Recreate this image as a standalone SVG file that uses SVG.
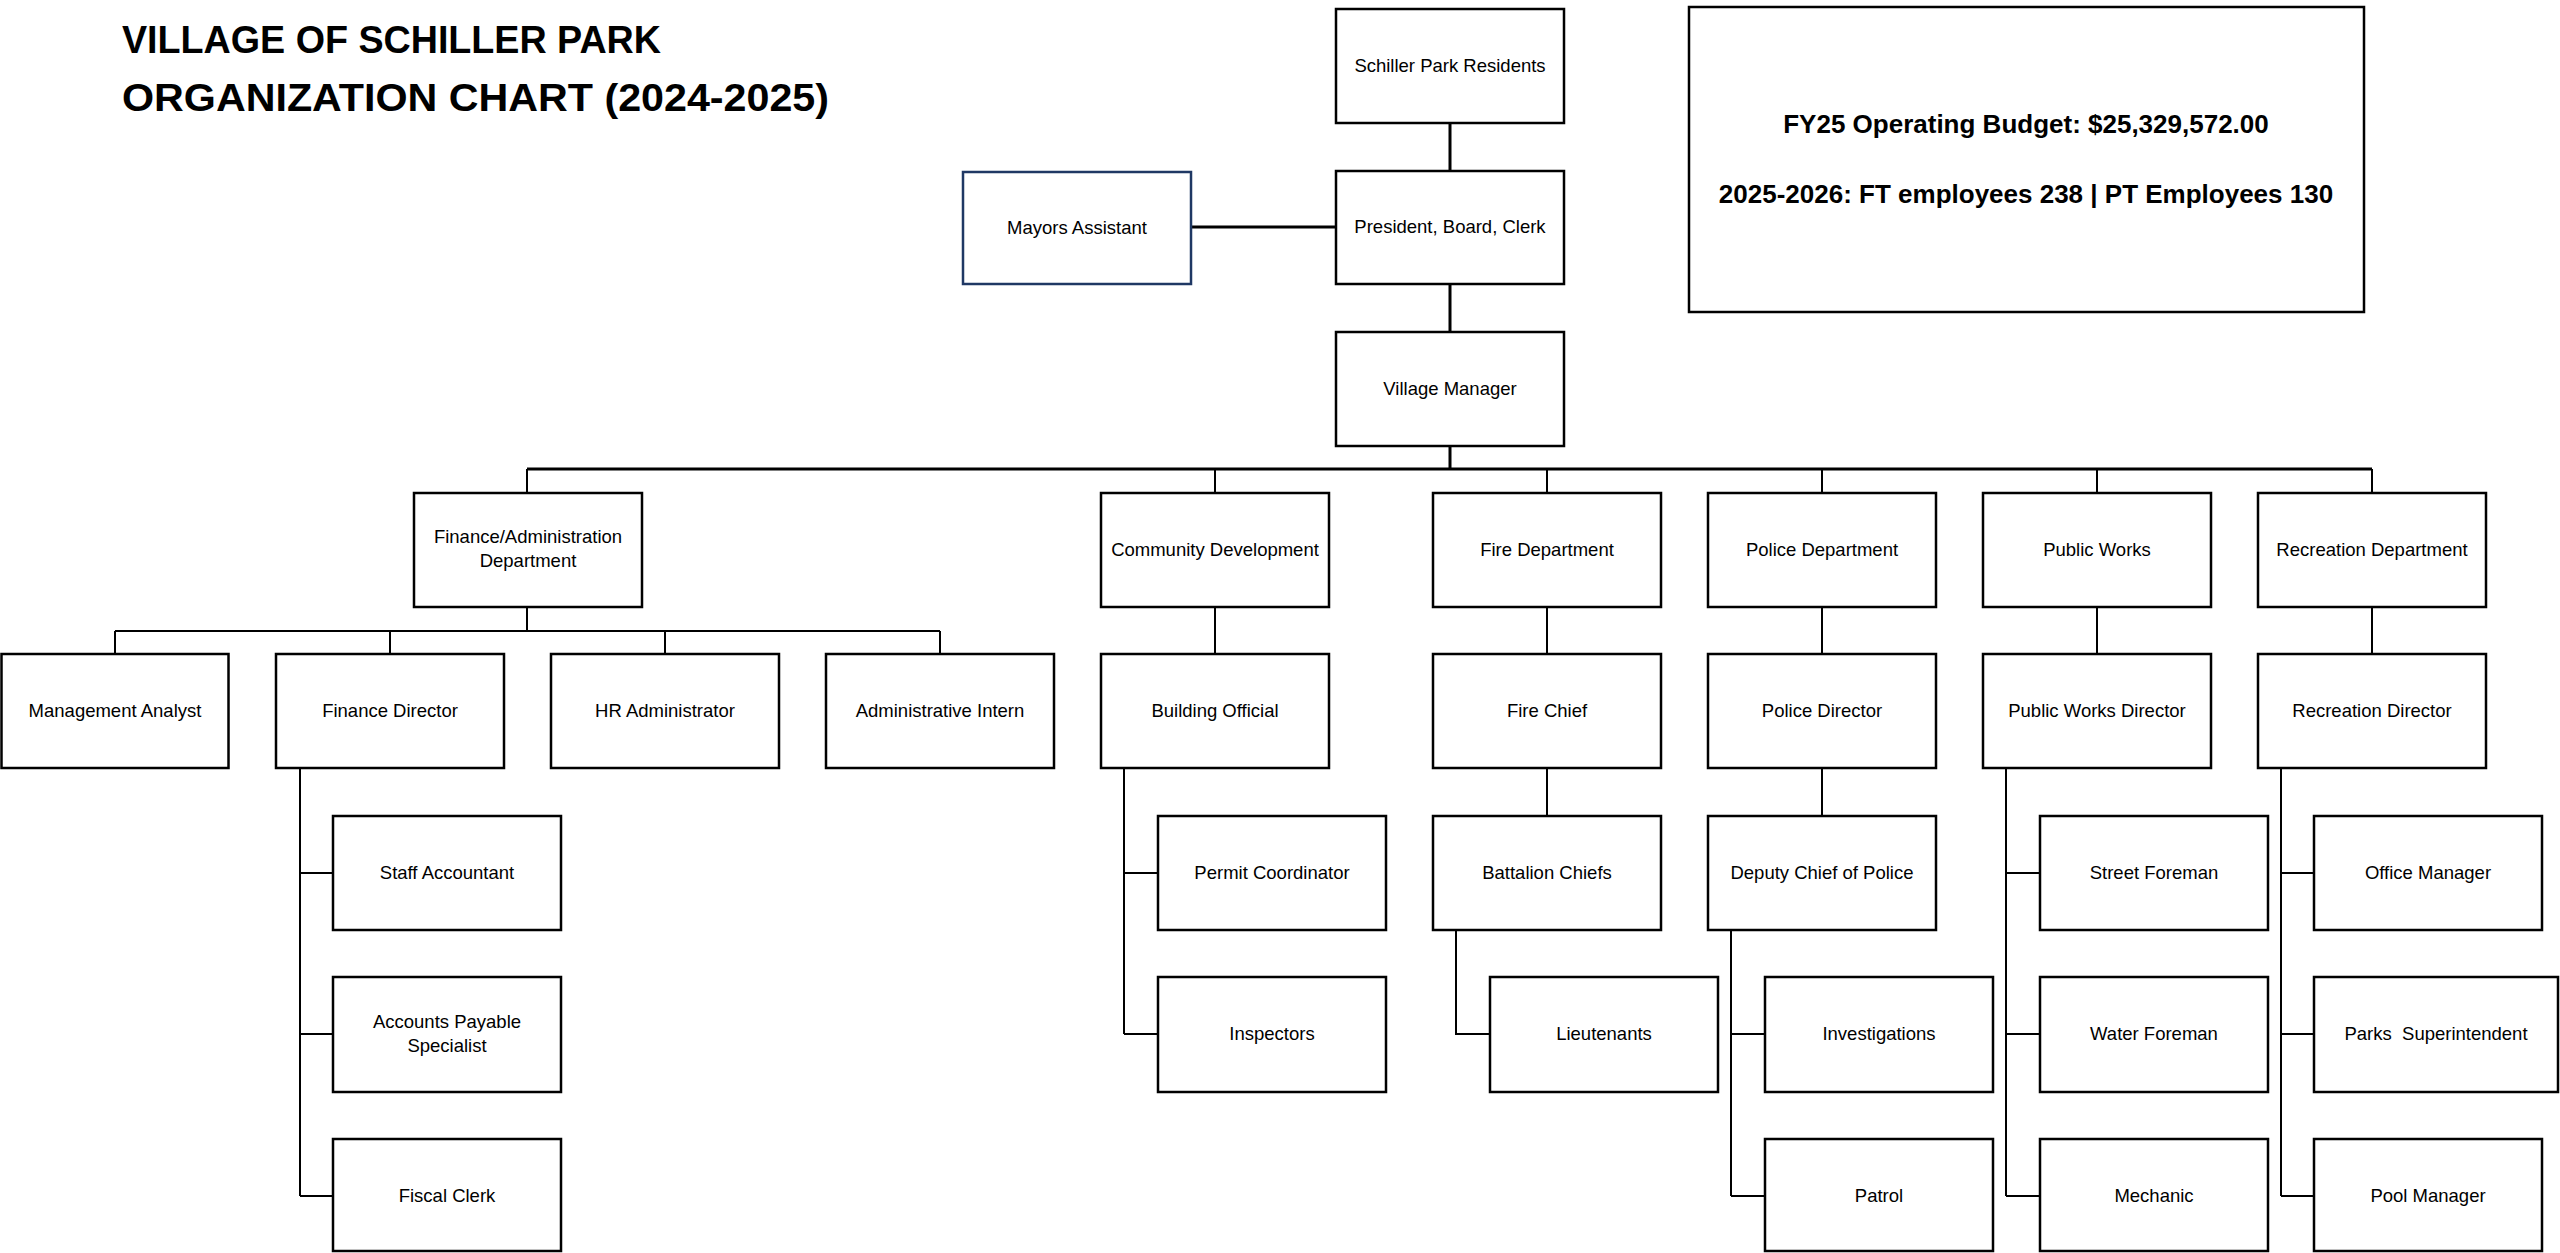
<svg xmlns="http://www.w3.org/2000/svg" width="2560" height="1253" viewBox="0 0 2560 1253">
<style>
.box{fill:#fff;stroke:#000;stroke-width:2.5}
.navy{fill:#fff;stroke:#1F3864;stroke-width:2.5}
.lbl{font-family:"Liberation Sans",Arial,sans-serif;font-size:18.5px;fill:#000;text-anchor:middle}
.title{font-family:"Liberation Sans",Arial,sans-serif;font-size:38px;font-weight:bold;fill:#000}
.info{font-family:"Liberation Sans",Arial,sans-serif;font-size:26px;font-weight:bold;fill:#000;text-anchor:middle}
.c{fill:none;stroke:#000;stroke-width:2}
.cb{fill:none;stroke:#000;stroke-width:3}
</style>
<rect width="2560" height="1253" fill="#fff"/>
<g id="title">
<text class="title" x="122" y="53" textLength="539" lengthAdjust="spacingAndGlyphs">VILLAGE OF SCHILLER PARK</text>
<text class="title" x="122" y="111" textLength="707" lengthAdjust="spacingAndGlyphs">ORGANIZATION CHART (2024-2025)</text>
</g>
<g id="info">
<rect class="box" x="1689" y="7" width="675" height="305"/>
<text class="info" x="2026" y="133">FY25 Operating Budget: $25,329,572.00</text>
<text class="info" x="2026" y="203">2025-2026: FT employees 238 | PT Employees 130</text>
</g>
<g id="connectors">
<path class="cb" d="M1450 123V171M1450 284V332M1191 227H1336M1450 446V469M527 469H2372"/>
<path class="c" d="M527 469V493M1215 469V493M1547 469V493M1822 469V493M2097 469V493M2372 469V493"/>
<path class="c" d="M527 607V631M115 631H940M115 631V654M390 631V654M665 631V654M940 631V654"/>
<path class="c" d="M300 768V1196M300 873H333M300 1034H333M300 1196H333"/>
<path class="c" d="M1215 607V654M1124 768V1034M1124 873H1158M1124 1034H1158"/>
<path class="c" d="M1547 607V654M1547 768V816M1456 930V1034H1490"/>
<path class="c" d="M1822 607V654M1822 768V816M1731 930V1196M1731 1034H1765M1731 1196H1765"/>
<path class="c" d="M2097 607V654M2006 768V1196M2006 873H2040M2006 1034H2040M2006 1196H2040"/>
<path class="c" d="M2372 607V654M2281 768V1196M2281 873H2314M2281 1034H2314M2281 1196H2314"/>
</g>
<g id="residents"><rect class="box" x="1336" y="9" width="228" height="114"/><text class="lbl" x="1450" y="72">Schiller Park Residents</text></g>
<g id="president"><rect class="box" x="1336" y="171" width="228" height="113"/><text class="lbl" x="1450" y="233">President, Board, Clerk</text></g>
<g id="mayors-assistant"><rect class="navy" x="963" y="172" width="228" height="112"/><text class="lbl" x="1077" y="234">Mayors Assistant</text></g>
<g id="village-manager"><rect class="box" x="1336" y="332" width="228" height="114"/><text class="lbl" x="1450" y="395">Village Manager</text></g>

<g id="finance-admin"><rect class="box" x="414" y="493" width="228" height="114"/><text class="lbl" x="528" y="543">Finance/Administration</text><text class="lbl" x="528" y="567">Department</text></g>
<g id="community-dev"><rect class="box" x="1101" y="493" width="228" height="114"/><text class="lbl" x="1215" y="556">Community Development</text></g>
<g id="fire-dept"><rect class="box" x="1433" y="493" width="228" height="114"/><text class="lbl" x="1547" y="556">Fire Department</text></g>
<g id="police-dept"><rect class="box" x="1708" y="493" width="228" height="114"/><text class="lbl" x="1822" y="556">Police Department</text></g>
<g id="public-works"><rect class="box" x="1983" y="493" width="228" height="114"/><text class="lbl" x="2097" y="556">Public Works</text></g>
<g id="recreation-dept"><rect class="box" x="2258" y="493" width="228" height="114"/><text class="lbl" x="2372" y="556">Recreation Department</text></g>

<g id="mgmt-analyst"><rect class="box" x="1.5" y="654" width="227" height="114"/><text class="lbl" x="115" y="717">Management Analyst</text></g>
<g id="finance-director"><rect class="box" x="276" y="654" width="228" height="114"/><text class="lbl" x="390" y="717">Finance Director</text></g>
<g id="hr-admin"><rect class="box" x="551" y="654" width="228" height="114"/><text class="lbl" x="665" y="717">HR Administrator</text></g>
<g id="admin-intern"><rect class="box" x="826" y="654" width="228" height="114"/><text class="lbl" x="940" y="717">Administrative Intern</text></g>
<g id="building-official"><rect class="box" x="1101" y="654" width="228" height="114"/><text class="lbl" x="1215" y="717">Building Official</text></g>
<g id="fire-chief"><rect class="box" x="1433" y="654" width="228" height="114"/><text class="lbl" x="1547" y="717">Fire Chief</text></g>
<g id="police-director"><rect class="box" x="1708" y="654" width="228" height="114"/><text class="lbl" x="1822" y="717">Police Director</text></g>
<g id="pw-director"><rect class="box" x="1983" y="654" width="228" height="114"/><text class="lbl" x="2097" y="717">Public Works Director</text></g>
<g id="rec-director"><rect class="box" x="2258" y="654" width="228" height="114"/><text class="lbl" x="2372" y="717">Recreation Director</text></g>

<g id="staff-accountant"><rect class="box" x="333" y="816" width="228" height="114"/><text class="lbl" x="447" y="879">Staff Accountant</text></g>
<g id="permit-coordinator"><rect class="box" x="1158" y="816" width="228" height="114"/><text class="lbl" x="1272" y="879">Permit Coordinator</text></g>
<g id="battalion-chiefs"><rect class="box" x="1433" y="816" width="228" height="114"/><text class="lbl" x="1547" y="879">Battalion Chiefs</text></g>
<g id="deputy-chief"><rect class="box" x="1708" y="816" width="228" height="114"/><text class="lbl" x="1822" y="879">Deputy Chief of Police</text></g>
<g id="street-foreman"><rect class="box" x="2040" y="816" width="228" height="114"/><text class="lbl" x="2154" y="879">Street Foreman</text></g>
<g id="office-manager"><rect class="box" x="2314" y="816" width="228" height="114"/><text class="lbl" x="2428" y="879">Office Manager</text></g>

<g id="accounts-payable"><rect class="box" x="333" y="977" width="228" height="115"/><text class="lbl" x="447" y="1028">Accounts Payable</text><text class="lbl" x="447" y="1052">Specialist</text></g>
<g id="inspectors"><rect class="box" x="1158" y="977" width="228" height="115"/><text class="lbl" x="1272" y="1040">Inspectors</text></g>
<g id="lieutenants"><rect class="box" x="1490" y="977" width="228" height="115"/><text class="lbl" x="1604" y="1040">Lieutenants</text></g>
<g id="investigations"><rect class="box" x="1765" y="977" width="228" height="115"/><text class="lbl" x="1879" y="1040">Investigations</text></g>
<g id="water-foreman"><rect class="box" x="2040" y="977" width="228" height="115"/><text class="lbl" x="2154" y="1040">Water Foreman</text></g>
<g id="parks-super"><rect class="box" x="2314" y="977" width="244" height="115"/><text class="lbl" x="2436" y="1040" style="white-space:pre" xml:space="preserve">Parks  Superintendent</text></g>

<g id="fiscal-clerk"><rect class="box" x="333" y="1139" width="228" height="112"/><text class="lbl" x="447" y="1202">Fiscal Clerk</text></g>
<g id="patrol"><rect class="box" x="1765" y="1139" width="228" height="112"/><text class="lbl" x="1879" y="1202">Patrol</text></g>
<g id="mechanic"><rect class="box" x="2040" y="1139" width="228" height="112"/><text class="lbl" x="2154" y="1202">Mechanic</text></g>
<g id="pool-manager"><rect class="box" x="2314" y="1139" width="228" height="112"/><text class="lbl" x="2428" y="1202">Pool Manager</text></g>
</svg>
